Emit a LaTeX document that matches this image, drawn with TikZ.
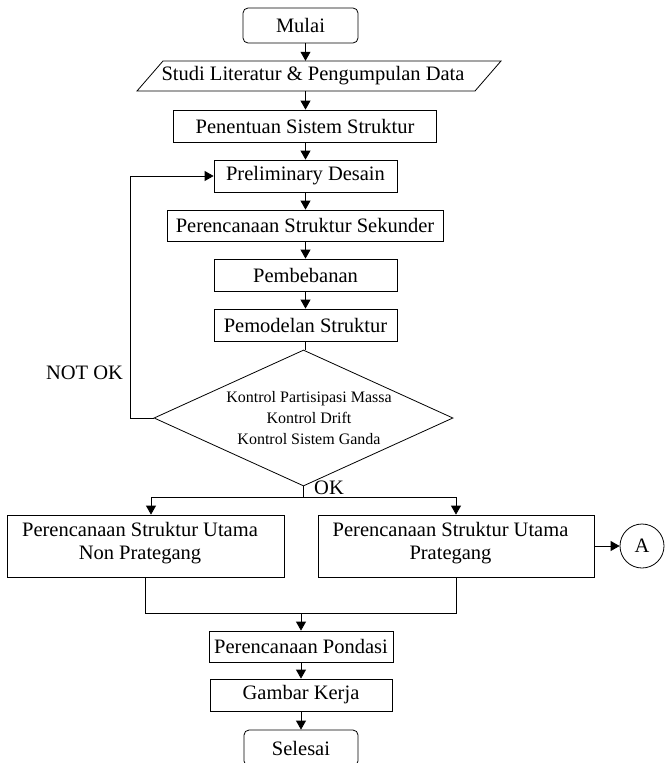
\documentclass[tikz,border=0pt]{standalone}
\usepackage{fontspec}
\setmainfont{Liberation Serif}
\usetikzlibrary{arrows.meta,shapes.geometric}
\begin{document}
\begin{tikzpicture}[x=1pt,y=-1pt,
  ln/.style={line width=0.8pt},
  box/.style={draw,ln,inner sep=0pt,font=\fontsize{20.5}{24}\selectfont},
  term/.style={box,rounded corners=5pt},
  arr/.style={ln,-{Triangle[width=10pt,length=9pt]}},
  lbl/.style={inner sep=0pt,font=\fontsize{20.5}{23.5}\selectfont,align=center},
  dtext/.style={inner sep=0pt,font=\fontsize{16}{21}\selectfont,align=center}]
\useasboundingbox (0,0) rectangle (665,763);
\clip (0,0) rectangle (665,763);
% nodes
\node[term,minimum width=115,minimum height=35] (mulai) at (300.5,25.5) {Mulai};
\node[lbl,minimum height=30] (studi) at (313,76) {Studi Literatur \& Pengumpulan Data};
\draw[ln] (137,91) -- (163,61) -- (501,61) -- (475,91) -- cycle;
\node[box,minimum width=263,minimum height=32] (pen) at (305,126) {Penentuan Sistem Struktur};
\node[box,minimum width=183,minimum height=32] (pre) at (305.5,176) {Preliminary Desain};
\node[box,minimum width=276,minimum height=31] (sek) at (305,225.5) {Perencanaan Struktur Sekunder};
\node[box,minimum width=183,minimum height=32] (beb) at (305.5,275) {Pembebanan};
\node[box,minimum width=183,minimum height=32] (mod) at (305.5,325) {Pemodelan Struktur};
\node[draw,ln,diamond,minimum width=299,minimum height=136,inner sep=0pt] (dia) at (303.5,418) {};
\node[dtext] (diat) at (309,417.7) {Kontrol Partisipasi Massa\\Kontrol Drift\\Kontrol Sistem Ganda};
\node[lbl] (notok) at (84.5,373) {NOT OK};
\node[lbl] (ok) at (329,488) {OK};
\node[box,minimum width=277,minimum height=62] (lbox) at (145.5,546) {};
\node[lbl] (ltext) at (140,543) {Perencanaan Struktur Utama\\Non Prategang};
\node[box,minimum width=276,minimum height=62] (rbox) at (456,546) {};
\node[lbl] (rtext) at (450.5,543) {Perencanaan Struktur Utama\\Prategang};
\node[draw,ln,circle,minimum size=44,inner sep=0pt,font=\fontsize{20.5}{24}\selectfont] (a) at (642,546) {A};
\node[box,minimum width=184,minimum height=31] (pon) at (301,646.5) {Perencanaan Pondasi};
\node[box,minimum width=182,minimum height=32] (gam) at (301,695) {Gambar Kerja};
\node[term,minimum width=114,minimum height=36] (sel) at (301,748) {Selesai};
% connectors
\coordinate (loopc) at (130,418);
\coordinate (split) at (303.5,497);
\coordinate (merge) at (301,613);
\draw[arr] (mulai.south -| pre.center) -- (studi.north -| pre.center);
\draw[arr] (studi.south -| pre.center) -- (pen.north -| pre.center);
\draw[arr] (pen.south -| pre.center) -- (pre.north);
\draw[arr] (pre.south) -- (pre.south |- sek.north);
\draw[arr] (sek.south -| beb.center) -- (beb.north);
\draw[arr] (beb.south) -- (mod.north);
\draw[ln] (mod.south) -- (mod.south |- dia.north);
\draw[arr] (dia.west) -- (loopc) |- (pre.west);
\draw[ln] (dia.south) -- (split);
\draw[arr] (split) -| ([xshift=5.5pt]lbox.north);
\draw[arr] (split) -| (rbox.north);
\draw[ln] (lbox.south) |- (merge -| rbox.south) -- (rbox.south);
\draw[arr] (merge) -- (pon.north);
\draw[arr] (pon.south) -- (gam.north);
\draw[arr] (gam.south) -- (sel.north);
\draw[arr] (rbox.east) -- (a.west);
\end{tikzpicture}
\end{document}
